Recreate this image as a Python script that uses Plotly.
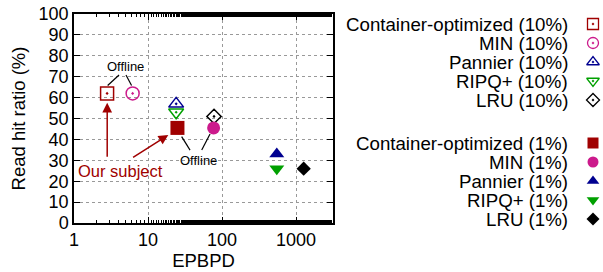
import math
import plotly.graph_objects as go

# ---- data ----
names = ["Container-optimized", "MIN", "Pannier", "RIPQ+", "LRU"]
colors = ["#a00000", "#cc1a8c", "#000090", "#00a000", "#000000"]
sym_open = ["square-open-dot", "circle-open-dot", "triangle-up-open-dot", "triangle-down-open-dot", "diamond-open-dot"]
sym_fill = ["square", "circle", "triangle-up", "triangle-down", "diamond"]
epbpd_10 = [2.8, 6.2, 24, 24, 78]
hit_10 = [62, 62, 57, 53, 51]
epbpd_1 = [25, 77, 550, 550, 1270]
hit_1 = [45.5, 45.5, 33, 26, 26]
xticks = [1, 10, 100, 1000]
yticks = list(range(0, 101, 10))

FONT = "Liberation Sans, Arial, Helvetica, sans-serif"
W, H = 603, 272
ML, MR, MT, MB = 74, 5, 14, 49
PW = W - ML - MR
main_frac = 259 / PW

fig = go.Figure()

open_sizes = [13, 13, 13, 13, 11]
for i, n in enumerate(names):
    fig.add_trace(go.Scatter(x=[epbpd_10[i]], y=[hit_10[i]], mode="markers", showlegend=False,
                             marker=dict(symbol=sym_open[i], size=open_sizes[i], color=colors[i], line=dict(width=1.5, color=colors[i])),
                             cliponaxis=False))
fill_sizes = [14, 13, 13, 13, 11]
for i, n in enumerate(names):
    fig.add_trace(go.Scatter(x=[epbpd_1[i]], y=[hit_1[i]], mode="markers", showlegend=False,
                             marker=dict(symbol=sym_fill[i], size=fill_sizes[i], color=colors[i], line=dict(width=0)),
                             cliponaxis=False))

# "Offline" connector lines
connectors = [
    ([4.06, 2.85], [70.8, 65.8]),
    ([5.04, 6.0], [70.8, 65.8]),
    ([28.5, 37], [41.3, 34.9]),
    ([68.9, 53.2], [42.6, 34.9]),
]
for cx, cy in connectors:
    fig.add_trace(go.Scatter(x=cx, y=cy, mode="lines", showlegend=False,
                             line=dict(color="black", width=1.2), hoverinfo="skip"))

annotations = []
annotations.append(dict(x=math.log10(5.0), y=74.8, xref="x", yref="y", text="Offline", showarrow=False,
                        font=dict(family=FONT, size=13, color="black")))
annotations.append(dict(x=math.log10(47.4), y=30.1, xref="x", yref="y", text="Offline", showarrow=False,
                        font=dict(family=FONT, size=13, color="black")))
annotations.append(dict(x=math.log10(4.3), y=25.0, xref="x", yref="y", text="Our subject", showarrow=False,
                        font=dict(family=FONT, size=16.5, color="#a00000")))
for (hx, hy), (tx, ty) in [((2.81, 57.5), (2.81, 31)), ((18.8, 42.1), (6.0, 31))]:
    annotations.append(dict(x=math.log10(hx), y=hy, ax=math.log10(tx), ay=ty, xref="x", yref="y",
                            axref="x", ayref="y", text="", showarrow=True, arrowhead=2, arrowsize=1.3,
                            arrowwidth=1.5, arrowcolor="#a00000"))

# manual legend (pixel-like coordinates on helper axes)
row_y_10 = [24 + 19 * i for i in range(5)]
row_y_1 = [143 + 19 * i for i in range(5)]
text_right = 570
marker_x = 593
for i, n in enumerate(names):
    for ry, lab, sym in [(row_y_10[i], f"{n} (10%)", sym_open[i]), (row_y_1[i], f"{n} (1%)", sym_fill[i])]:
        annotations.append(dict(x=text_right, y=ry, xref="x2", yref="y2", text=lab, showarrow=False,
                                xanchor="right", yanchor="middle",
                                font=dict(family=FONT, size=18.7, color="black")))
        filled = "open" not in sym
        fig.add_trace(go.Scatter(x=[marker_x], y=[ry], xaxis="x2", yaxis="y2", mode="markers", showlegend=False,
                                 marker=dict(symbol=sym, size=(10 if "diamond" in sym else 11), color=colors[i],
                                             line=dict(width=0 if filled else 1.3, color=colors[i])),
                                 cliponaxis=False))

fig.update_layout(
    width=W, height=H,
    margin=dict(l=ML, r=MR, t=MT, b=MB),
    paper_bgcolor="white", plot_bgcolor="white",
    font=dict(family=FONT, size=18, color="black"),
    annotations=annotations,
    xaxis=dict(type="log", range=[0, 3.5], domain=[0, main_frac],
               tickvals=xticks, ticktext=[str(v) for v in xticks],
               ticks="inside", ticklen=6, tickwidth=1, tickcolor="black",
               showline=True, linecolor="black", linewidth=1.5, mirror="allticks",
               showgrid=True, gridcolor="#999999", griddash="dot", gridwidth=1,
               minor=dict(ticks="inside", ticklen=3, tickcolor="black", showgrid=False),
               title=dict(text="EPBPD", font=dict(size=18.5), standoff=2),
               tickfont=dict(size=18), zeroline=False),
    yaxis=dict(range=[0, 100], tickvals=yticks,
               ticks="inside", ticklen=6, tickwidth=1, tickcolor="black",
               showline=True, linecolor="black", linewidth=1.5, mirror="allticks",
               showgrid=True, gridcolor="#999999", griddash="dot", gridwidth=1,
               title=dict(text="Read hit ratio (%)", font=dict(size=18.5), standoff=8),
               tickfont=dict(size=18), zeroline=False),
    xaxis2=dict(domain=[main_frac + 0.01, 1], range=[ML + (main_frac + 0.01) * PW, W - MR],
                visible=False, fixedrange=True),
    yaxis2=dict(domain=[0, 1], range=[H - MB, MT], anchor="x2", visible=False, fixedrange=True),
    showlegend=False,
)

fig.write_html("out.html", config={"displayModeBar": False},
               post_script="document.body.style.margin='0px';document.body.style.overflow='hidden';")
